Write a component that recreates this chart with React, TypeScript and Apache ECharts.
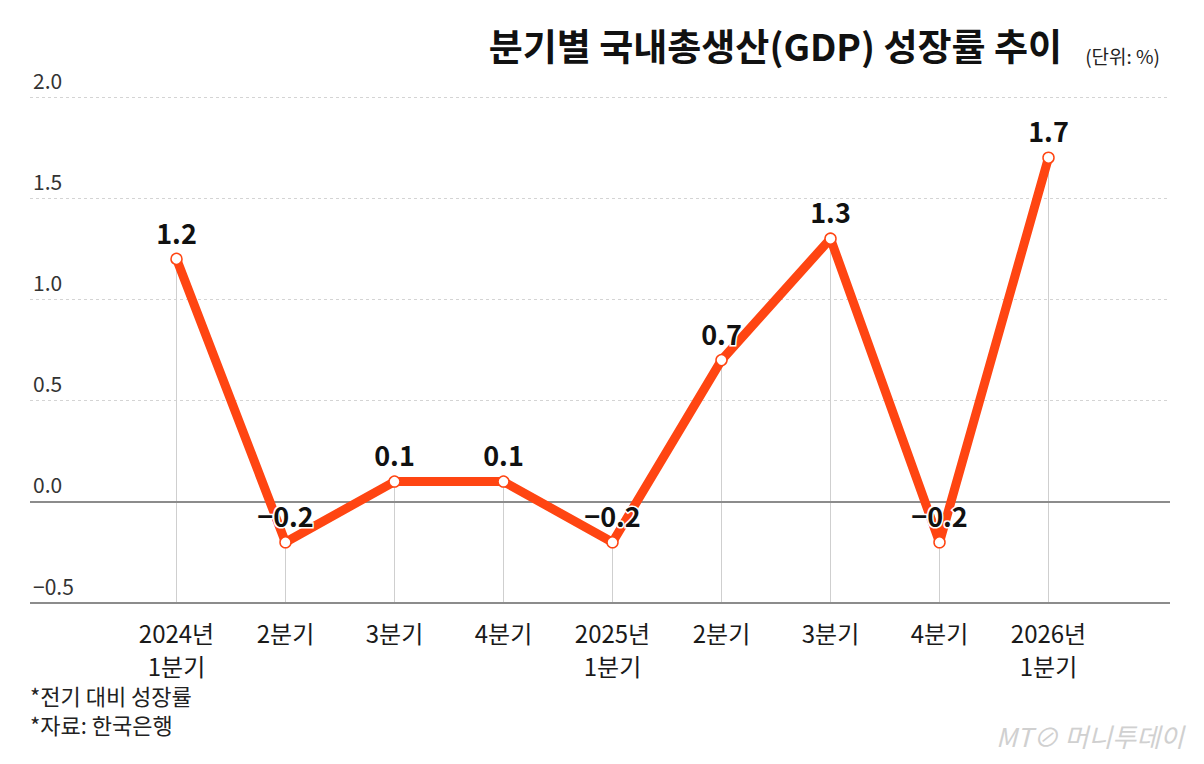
import React, { useEffect, useRef } from "react";
import * as echarts from "echarts";

const categories = ["2024년\n1분기", "2분기", "3분기", "4분기", "2025년\n1분기", "2분기", "3분기", "4분기", "2026년\n1분기"];
const growth = [1.2, -0.2, 0.1, 0.1, -0.2, 0.7, 1.3, -0.2, 1.7];
const yTicks = { min: -0.5, max: 2.0, interval: 0.5 };
const titleText = "분기별 국내총생산(GDP) 성장률 추이";
const unitText = "(단위: %)";
const notes = ["*전기 대비 성장률", "*자료: 한국은행"];

const NARROW = "'Liberation Sans Narrow', 'Noto Sans CJK KR', sans-serif";
const KR = "'Noto Sans CJK KR', sans-serif";

const fmt = (v: number) => (v < 0 ? "\u2212" + Math.abs(v).toFixed(1) : v.toFixed(1));

export default function App() {
  const ref = useRef<HTMLDivElement>(null);
  useEffect(() => {
    document.body.style.margin = "0";
    const chart = echarts.init(ref.current!, null, { renderer: "svg" });
    const top = 97;
    const bottom = 161;
    chart.setOption({
      animation: false,
      backgroundColor: "#fff",
      grid: [
        { left: 30, right: 34, top, bottom },
        { left: 122, right: 101, top, bottom },
      ],
      xAxis: [
        { type: "value", gridIndex: 0, show: false, min: 0, max: 1 },
        {
          type: "category",
          gridIndex: 1,
          data: categories,
          boundaryGap: true,
          axisLine: { show: false },
          axisTick: { show: false },
          splitLine: { show: false },
          axisLabel: {
            fontFamily: NARROW,
            fontSize: 24,
            color: "#1a1a1a",
            lineHeight: 33,
            margin: 13,
            interval: 0,
          },
        },
      ],
      yAxis: [
        {
          type: "value",
          gridIndex: 0,
          ...yTicks,
          axisLine: { show: false },
          axisTick: { show: false },
          axisLabel: {
            inside: true,
            margin: 3,
            verticalAlign: "bottom",
            padding: [0, 0, 7, 0],
            fontFamily: NARROW,
            fontSize: 21,
            color: "#333",
            formatter: (v: number) => fmt(v),
          },
          splitLine: { show: true, lineStyle: { color: "#d4d4d4", type: [3, 3], width: 1 } },
        },
        { type: "value", gridIndex: 1, ...yTicks, show: false, splitLine: { show: false } },
      ],
      series: [
        {
          type: "line",
          xAxisIndex: 0,
          yAxisIndex: 0,
          data: [],
          silent: true,
          markLine: {
            silent: true,
            symbol: "none",
            label: { show: false },
            lineStyle: { color: "#8c8c8c", type: "solid", width: 2 },
            data: [{ yAxis: 0 }, { yAxis: yTicks.min }],
          },
        },
        {
          type: "line",
          xAxisIndex: 1,
          yAxisIndex: 1,
          data: growth,
          z: 5,
          lineStyle: { color: "#FF4512", width: 9 },
          itemStyle: { color: "#fff", borderColor: "#FF4512", borderWidth: 1.5 },
          symbol: "circle",
          symbolSize: 11,
          label: {
            show: true,
            position: "top",
            distance: 7,
            fontFamily: NARROW,
            fontWeight: "bold",
            fontSize: 27,
            color: "#111",
            textBorderColor: "#fff",
            textBorderWidth: 3,
            formatter: (p: any) => fmt(p.value),
          },
          markLine: {
            silent: true,
            symbol: "none",
            z: 1,
            label: { show: false },
            lineStyle: { color: "#cfcfcf", type: "solid", width: 1 },
            data: growth.map((v, i) => [
              { coord: [i, v] },
              { coord: [i, yTicks.min] },
            ]),
          },
        },
      ],
      graphic: [
        {
          type: "text",
          right: 142,
          top: 26,
          style: { text: titleText, fontFamily: KR, fontWeight: "bold", fontSize: 37, fill: "#111" },
        },
        {
          type: "text",
          right: 44,
          top: 46,
          style: { text: unitText, fontFamily: NARROW, fontSize: 19, fill: "#222" },
        },
        {
          type: "text",
          left: 30,
          top: 684,
          style: { text: notes[0], fontFamily: NARROW, fontSize: 22, fill: "#222" },
        },
        {
          type: "text",
          left: 30,
          top: 713,
          style: { text: notes[1], fontFamily: NARROW, fontSize: 22, fill: "#222" },
        },
        {
          type: "text",
          right: 20,
          top: 722,
          style: {
            text: "MT⊘ 머니투데이",
            fontFamily: KR,
            fontStyle: "italic",
            fontSize: 26,
            fill: "#d0d0d0",
          },
        },
      ],
    });
    return () => chart.dispose();
  }, []);
  return <div ref={ref} style={{ position: "absolute", left: 0, top: 0, width: 1204, height: 764 }} />;
}
